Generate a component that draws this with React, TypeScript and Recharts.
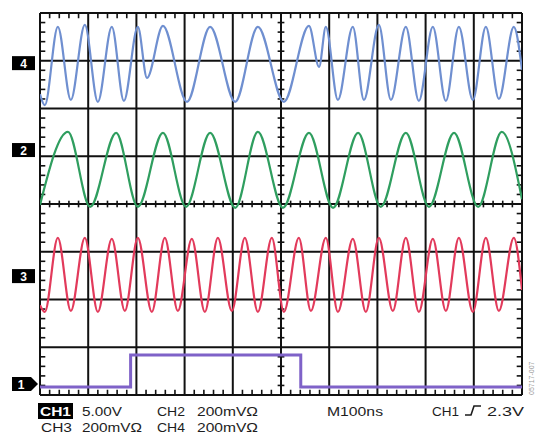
import { ComposedChart, Line, XAxis, YAxis, ReferenceLine, ReferenceDot } from "recharts";

// time in ns (100 ns/div, 10 div), level in screen divisions (-4..4)
const gridTimes = [0, 100, 200, 300, 400, 500, 600, 700, 800, 900, 1000];
const gridLevels = [-4, -3, -2, -1, 0, 1, 2, 3, 4];

const ch4Time = [0, 10, 37, 64, 93, 120, 149, 174, 203, 222, 255, 305, 353, 405, 452, 506, 558, 579, 593, 618, 649, 672, 703, 728, 759, 786, 815, 842, 869, 898, 925, 952, 983, 1000];
const ch4Level = [2.3, 2.07, 3.71, 2.18, 3.75, 2.14, 3.71, 2.16, 3.71, 2.64, 3.73, 2.14, 3.71, 2.14, 3.71, 2.14, 3.73, 2.87, 3.71, 2.18, 3.71, 2.18, 3.75, 2.18, 3.71, 2.16, 3.71, 2.16, 3.71, 2.18, 3.71, 2.2, 3.71, 2.81];

const ch2Time = [0, 58, 104, 158, 203, 255, 303, 353, 405, 452, 504, 558, 608, 660, 707, 759, 807, 859, 909, 958, 1000];
const ch2Level = [-0.02, 1.51, -0.06, 1.49, -0.06, 1.49, -0.06, 1.49, -0.08, 1.51, -0.08, 1.49, -0.08, 1.49, -0.06, 1.49, -0.06, 1.49, -0.06, 1.51, 0.1];

const ch3Time = [0, 10, 37, 64, 93, 120, 149, 176, 203, 232, 259, 286, 315, 342, 369, 398, 425, 452, 481, 506, 537, 562, 593, 618, 649, 676, 703, 732, 759, 786, 815, 842, 869, 898, 925, 952, 983, 1000];
const ch3Level = [-2.12, -2.26, -0.71, -2.24, -0.71, -2.26, -0.73, -2.24, -0.71, -2.26, -0.71, -2.24, -0.73, -2.26, -0.71, -2.24, -0.71, -2.26, -0.71, -2.26, -0.71, -2.24, -0.71, -2.26, -0.73, -2.26, -0.71, -2.24, -0.71, -2.26, -0.73, -2.24, -0.71, -2.26, -0.71, -2.24, -0.71, -1.8];

const ch1Time = [0, 188, 188, 541, 541, 1000];
const ch1Level = [-3.83, -3.83, -3.16, -3.16, -3.83, -3.83];

const tagNames = ["4", "2", "3", "1"];
const tagLevels = [2.95, 1.13, -1.51, -3.77];

const toRows = (t: number[], v: number[]) => t.map((x, i) => ({ t: x, v: v[i] }));

const minorTimes = gridTimes.slice(0, -1).flatMap((t) => [20, 40, 60, 80].map((d) => t + d));
const minorLevels = gridLevels.slice(0, -1).flatMap((v) => [0.2, 0.4, 0.6, 0.8].map((d) => +(v + d).toFixed(1)));

const TAG_W = 23;

function ChannelTag(props: any) {
  const { cx, cy, name } = props;
  const x0 = cx - 28;
  return (
    <g>
      {name === "1" ? (
        <path d={`M${x0},${cy - 7} L${cx - 9},${cy - 7} L${cx - 2},${cy} L${cx - 9},${cy + 7} L${x0},${cy + 7} Z`} fill="#000" />
      ) : (
        <rect x={x0} y={cy - 7} width={TAG_W} height={14} fill="#000" />
      )}
      <text x={name === "1" ? x0 + 9 : x0 + TAG_W / 2} y={cy + 4.5} fill="#fff" fontSize={12} fontWeight="bold" textAnchor="middle" fontFamily="Liberation Sans, Arial, sans-serif">
        {name}
      </text>
    </g>
  );
}

const traceProps = {
  type: "monotone" as const,
  dataKey: "v",
  dot: false,
  activeDot: false,
  isAnimationActive: false,
  strokeWidth: 2.2,
};

export default function App() {
  const tick = { stroke: "#111", strokeWidth: 1.6 };
  return (
    <div style={{ position: "absolute", left: 0, top: 0, width: 536, height: 436, background: "#fff", overflow: "hidden" }}>
      <ComposedChart width={536} height={436} margin={{ top: 13, right: 14, left: 40, bottom: 41 }}>
        <XAxis type="number" dataKey="t" domain={[0, 1000]} hide allowDataOverflow />
        <YAxis type="number" domain={[-4, 4]} hide allowDataOverflow />
        {gridTimes.map((t) => (
          <ReferenceLine key={"gx" + t} x={t} stroke="#111" strokeWidth={2} />
        ))}
        {gridLevels.map((v) => (
          <ReferenceLine key={"gy" + v} y={v} stroke="#111" strokeWidth={2} />
        ))}
        {minorTimes.map((t) => (
          <ReferenceLine key={"tb" + t} segment={[{ x: t, y: -4 }, { x: t, y: -3.89 }]} {...tick} />
        ))}
        {minorTimes.map((t) => (
          <ReferenceLine key={"tt" + t} segment={[{ x: t, y: 4 }, { x: t, y: 3.89 }]} {...tick} />
        ))}
        {minorTimes.map((t) => (
          <ReferenceLine key={"tc" + t} segment={[{ x: t, y: -0.07 }, { x: t, y: 0.07 }]} {...tick} />
        ))}
        {minorLevels.map((v) => (
          <ReferenceLine key={"tl" + v} segment={[{ x: 0, y: v }, { x: 11, y: v }]} {...tick} />
        ))}
        {minorLevels.map((v) => (
          <ReferenceLine key={"tr" + v} segment={[{ x: 1000, y: v }, { x: 989, y: v }]} {...tick} />
        ))}
        {minorLevels.map((v) => (
          <ReferenceLine key={"tm" + v} segment={[{ x: 493, y: v }, { x: 507, y: v }]} {...tick} />
        ))}
        <Line {...traceProps} data={toRows(ch4Time, ch4Level)} stroke="#6f8fd0" />
        <Line {...traceProps} data={toRows(ch2Time, ch2Level)} stroke="#2f9e5f" />
        <Line {...traceProps} data={toRows(ch3Time, ch3Level)} stroke="#e23a5b" />
        <Line {...traceProps} type="linear" data={toRows(ch1Time, ch1Level)} stroke="#7f62c8" strokeWidth={3} />
        {tagNames.map((n, i) => (
          <ReferenceDot key={"tag" + n} x={0} y={tagLevels[i]} ifOverflow="visible" shape={(p: any) => <ChannelTag cx={p.cx} cy={p.cy} name={n} />} />
        ))}
      </ComposedChart>
      <svg width={536} height={436} style={{ position: "absolute", left: 0, top: 0, pointerEvents: "none" }} fontFamily="Liberation Sans, Arial, sans-serif" fontSize={13}>
        <rect x={38} y={403} width={35} height={16} fill="#000" />
        <text x={40} y={416} fill="#fff" fontWeight="bold" textLength={31} lengthAdjust="spacingAndGlyphs">CH1</text>
        <g fill="#1d1d1d">
          <text x={82} y={416} textLength={40} lengthAdjust="spacingAndGlyphs">5.00V</text>
          <text x={157} y={416} textLength={28} lengthAdjust="spacingAndGlyphs">CH2</text>
          <text x={197} y={416} textLength={61} lengthAdjust="spacingAndGlyphs">200mVΩ</text>
          <text x={327} y={416} textLength={56} lengthAdjust="spacingAndGlyphs">M100ns</text>
          <text x={432} y={416} textLength={27} lengthAdjust="spacingAndGlyphs">CH1</text>
          <text x={487} y={416} textLength={37} lengthAdjust="spacingAndGlyphs">2.3V</text>
          <text x={41} y={432} textLength={31} lengthAdjust="spacingAndGlyphs">CH3</text>
          <text x={82} y={432} textLength={60} lengthAdjust="spacingAndGlyphs">200mVΩ</text>
          <text x={157} y={432} textLength={28} lengthAdjust="spacingAndGlyphs">CH4</text>
          <text x={197} y={432} textLength={61} lengthAdjust="spacingAndGlyphs">200mVΩ</text>
        </g>
        <path d="M465,415 L471,415 L474,406 L481,406" stroke="#1d1d1d" strokeWidth={1.6} fill="none" />
        <text x={0} y={0} transform="translate(534,395) rotate(-90)" fontSize={7} fill="#999">05717-007</text>
      </svg>
    </div>
  );
}
